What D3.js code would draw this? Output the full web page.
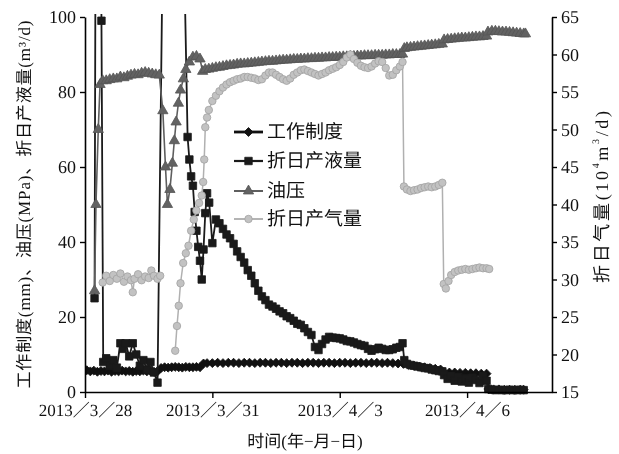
<!DOCTYPE html>
<html>
<head>
<meta charset="utf-8">
<script src="https://cdn.jsdelivr.net/npm/d3@7"></script>
<style>
  body { margin: 0; background: #fff; }
  svg { display: block; filter: grayscale(1); }
  text { text-rendering: geometricPrecision; }
</style>
</head>
<body>
<svg id="chart" width="619" height="454"></svg>
<script>
// Time is stored as hours after 2013-03-28 00:00
const startDate = new Date(2013, 2, 28);
const endDate = new Date(2013, 3, 8);
const xTickDates = [new Date(2013, 2, 28), new Date(2013, 2, 31), new Date(2013, 3, 3), new Date(2013, 3, 6)];
const leftTicks = [0, 20, 40, 60, 80, 100];
const rightTicks = [15, 20, 25, 30, 35, 40, 45, 50, 55, 60, 65];
const seriesNames = ["工作制度", "折日产液量", "油压", "折日产气量"];

// 工作制度 (mm)
const chokeData = [[1,5.8],[3,5.5],[5,5.7],[7,5.4],[9,5.6],[11,5.5],[13,5.7],[15,5.4],[17,5.6],[19,5.5],[21,5.7],[23,5.5],[25,5.6],[27,5.4],[29,5.6],[31,5.5],[33,5.7],[35,5.5],[37,5.6],[39,5.4],[41,5.5],[43,6.4],[45,6.6],[47,6.5],[49,6.6],[51,6.7],[53,6.6],[55,6.5],[57,6.7],[59,6.6],[61,6.6],[63,6.7],[65,6.6],[67,7.6],[69,7.7],[72,7.7],[75,7.8],[78,7.7],[81,7.8],[84,7.8],[87,7.7],[90,7.8],[93,7.8],[96,7.7],[99,7.8],[102,7.8],[105,7.7],[108,7.8],[111,7.8],[114,7.7],[117,7.8],[120,7.8],[123,7.7],[126,7.8],[129,7.8],[132,7.7],[135,7.8],[138,7.8],[141,7.7],[144,7.8],[147,7.8],[150,7.7],[153,7.8],[156,7.8],[159,7.7],[162,7.8],[165,7.8],[168,7.7],[171,7.8],[174,7.7],[177,7.6],[180,7.5],[183,7.2],[186,7.0],[189,6.8],[192,6.6],[195,6.4],[198,6.2],[201,6.0],[203,5.3],[206,5.2],[209,5.2],[212,5.1],[215,5.1],[218,5.0],[221,5.0],[224,4.9],[227,4.9],[228,0.8],[231,0.7],[234,0.7],[237,0.6],[240,0.6],[243,0.6],[246,0.6],[248,0.6]];

// 折日产液量 (m3/d)
const liquidData = [[5.4,25],[7,300],[9.3,99],[10.3,8],[12,9],[14,7],[16,8.5],[18,6.5],[20,13],[21.5,11.5],[23,13],[25,9.5],[27,13],[29,10],[31,7],[33,8.5],[35,6],[37,8],[39,5.2],[41,2.5],[48.5,300],[58,68],[59,62],[60,57.5],[61,55],[62,48],[63,43],[64,38.7],[65,35],[66,30],[67,38],[68,47.7],[69,53],[70.2,50.5],[72,39.7],[74,46],[76,45],[78,43.5],[80,42],[82,41],[84,39.5],[86,37.5],[88,36],[90,34.5],[92,32.5],[94,31],[96,29],[98,27],[100,25.5],[102,24.5],[104,23.3],[106,22.8],[108,22.2],[110,21.5],[112,21],[114,20.2],[116,19.7],[118,19],[120,18.2],[122,17.9],[124,17],[126,16],[128,15.2],[130,12],[132,11.2],[134,12.8],[136,14],[138,14.7],[140,14.5],[142,14.4],[144,14.3],[146,14],[148,13.6],[150,13.5],[152,13.2],[154,12.8],[156,12.5],[158,12.3],[160,11.5],[162,11],[164,11.4],[166,11.8],[168,11.5],[170,11.2],[172,11.2],[174,11.4],[176,11.8],[178,12],[179.5,13],[180.5,8.5],[182,7.5],[184,7.2],[186,7],[188,6.8],[190,6.6],[192,6.4],[194,6.3],[196,6.0],[198,5.8],[200,5.6],[202,5.5],[203,4.5],[205,3.5],[207,4.2],[209,3.0],[211,4.0],[213,2.8],[215,3.6],[217,2.5],[219,3.8],[221,3.2],[223,2.4],[225,4.2],[227,3.0],[228,0.8],[230,0.6],[232,0.5],[234,0.6],[236,0.5],[238,0.5],[240,0.6],[242,0.5],[244,0.5],[246,0.6],[248,0.5]];

// 油压 (MPa)
const pressureData = [[5.4,27],[6.2,50],[7.5,70],[8.5,82],[10,83],[12,83],[14,83.3],[16,83.5],[18,83.5],[20,84],[22,83.8],[24,84.2],[26,84.5],[28,84.7],[30,84.6],[32,85],[34,85.2],[36,85],[38,84.8],[40,84.6],[42,84.5],[44,75],[45.5,60],[46.6,50],[48,54],[49.4,61],[50.5,67],[51.5,72],[52.8,77],[54,80.5],[55.6,83.5],[57,86],[59,88],[61,89.3],[63,89.5],[65,88.8],[66.5,85.5],[68,86],[70,86.1],[72,86.3],[74,86.5],[76,86.6],[78,86.8],[80,87],[82,87.1],[84,87.2],[86,87.4],[88,87.5],[90,87.5],[92,87.6],[94,87.7],[96,87.8],[98,87.9],[100,88],[102,88.1],[104,88.2],[106,88.2],[108,88.3],[110,88.4],[112,88.5],[114,88.5],[116,88.6],[118,88.7],[120,88.7],[122,88.8],[124,88.8],[126,88.9],[128,88.9],[130,89],[132,89],[134,89.1],[136,89.1],[138,89.2],[140,89.2],[142,89.3],[144,89.3],[146,89.4],[148,89.4],[150,89.5],[152,89.5],[154,89.6],[156,89.6],[158,89.7],[160,89.7],[162,89.7],[164,89.8],[166,89.8],[168,89.8],[170,89.9],[172,89.9],[174,90],[176,90],[178,90],[179.5,90.1],[180.5,91.6],[182,91.8],[184,91.9],[186,92],[188,92.1],[190,92.2],[192,92.3],[194,92.4],[196,92.5],[198,92.6],[200,92.7],[202,92.8],[203,93.9],[205,94],[207,94.1],[209,94.2],[211,94.3],[213,94.4],[215,94.4],[217,94.5],[219,94.6],[221,94.7],[223,94.7],[225,94.8],[227,94.9],[227.8,96],[230,96.2],[232,96.2],[234,96.1],[236,96],[238,96],[240,95.9],[242,95.8],[244,95.7],[246,95.6],[248,95.5],[249,95.5]];

// 折日产气量 (10^4 m3/d), null = no record
const gasData = [[10,29.6],[12,30.5],[14,29.8],[16,30.6],[18,30.1],[20,30.8],[22,29.7],[24,30.4],[26,29.9],[27,28.3],[28,30.1],[30,30.7],[32,29.9],[34,30.4],[36,30.2],[37.5,31.2],[39,30.5],[41,30.1],[42.5,30.5],[46,null],[51,20.5],[52,23.8],[53,26.5],[54,29.5],[55.5,32.2],[57,33.5],[58.5,34.5],[60,36.5],[61.5,38],[63,39.2],[64.5,40.2],[66,41.2],[66.8,43],[67.4,46],[68,50.3],[69,51.6],[70,52.6],[72,53.8],[74,54.5],[76,55.1],[78,55.6],[80,56],[82,56.3],[84,56.5],[86,56.7],[88,56.8],[90,57],[92,57],[94,56.9],[96,56.8],[98,56.6],[100,56.7],[102,57.2],[104,57.6],[106,57.6],[108,57.3],[110,57],[112,56.7],[114,56.5],[116,56.8],[118,57.3],[120,57.6],[122,57.9],[124,58],[126,57.8],[128,57.6],[130,57.4],[132,57.2],[134,57.4],[136,57.6],[138,57.9],[140,58.1],[142,58.3],[144,58.6],[146,59],[148,59.6],[150,60],[152,59.4],[154,58.9],[156,58.5],[158,58.3],[160,58.2],[162,58.4],[164,58.8],[166,59.1],[168,59],[170,58.2],[172,57.2],[174,57.3],[176,57.9],[178,58.4],[179.5,59],[180.3,42.4],[182,42],[184,41.8],[186,41.9],[188,42],[190,42.2],[192,42.3],[194,42.4],[196,42.3],[198,42.4],[200,42.6],[202,42.9],[202.8,29.4],[204,28.8],[205.5,29.8],[207,30.6],[209,31],[211,31.2],[213,31.3],[215,31.4],[217,31.3],[219,31.4],[221,31.5],[223,31.6],[225,31.5],[227,31.5],[228.5,31.4]];

const svg = d3.select("#chart");
const mLeft = 85, mRight = 552, mTop = 17, mBottom = 392;
const cjk = "'Liberation Serif','Noto Sans CJK SC'";

const toDate = h => new Date(startDate.getTime() + h * 3600e3);
const x = d3.scaleTime().domain([startDate, endDate]).range([mLeft, mRight]);
const yL = d3.scaleLinear().domain([0, 100]).range([mBottom, mTop]);
const yR = d3.scaleLinear().domain([15, 65]).range([mBottom, mTop]);

svg.append("defs").append("clipPath").attr("id", "plot")
  .append("rect").attr("x", mLeft).attr("y", mTop - 3).attr("width", mRight - mLeft).attr("height", mBottom - mTop + 6);

const styles = [
  { data: chokeData, y: yL, color: "#111", fill: "#111", stroke: "#111", lw: 2.4, sym: d3.symbolSquare, size: 40, rot: 45 },
  { data: liquidData, y: yL, color: "#1a1a1a", fill: "#1a1a1a", stroke: "#1a1a1a", lw: 1.8, sym: d3.symbolSquare, size: 56, rot: 0 },
  { data: pressureData, y: yL, color: "#5e5e5e", fill: "#626262", stroke: "#555", lw: 1.6, sym: d3.symbolTriangle, size: 46, rot: 0 },
  { data: gasData, y: yR, color: "#b0b0b0", fill: "#c2c2c2", stroke: "#a2a2a2", lw: 1.5, sym: d3.symbolCircle, size: 44, rot: 0 }
];

const plot = svg.append("g").attr("clip-path", "url(#plot)");
styles.forEach(s => {
  const line = d3.line()
    .defined(d => d[1] !== null)
    .x(d => x(toDate(d[0])))
    .y(d => s.y(d[1]));
  const g = plot.append("g");
  g.append("path").datum(s.data)
    .attr("d", line).attr("fill", "none")
    .attr("stroke", s.color).attr("stroke-width", s.lw).attr("stroke-linejoin", "round");
  g.selectAll("path.m").data(s.data.filter(d => d[1] !== null)).join("path")
    .attr("class", "m")
    .attr("d", d3.symbol(s.sym, s.size))
    .attr("transform", d => `translate(${x(toDate(d[0]))},${s.y(d[1])}) rotate(${s.rot})`)
    .attr("fill", s.fill).attr("stroke", s.stroke).attr("stroke-width", 0.8);
});

// axes
const fmt = d => `${d.getFullYear()}／${d.getMonth() + 1}／${d.getDate()}`;
const gx = svg.append("g").attr("transform", `translate(0,${mBottom})`)
  .call(d3.axisBottom(x).tickValues(xTickDates).tickFormat(fmt).tickSizeInner(6).tickSizeOuter(0).tickPadding(6));
const gl = svg.append("g").attr("transform", `translate(${mLeft},0)`)
  .call(d3.axisLeft(yL).tickValues(leftTicks).tickSizeInner(5).tickSizeOuter(0).tickPadding(4));
const gr = svg.append("g").attr("transform", `translate(${mRight},0)`)
  .call(d3.axisRight(yR).tickValues(rightTicks).tickSizeInner(5).tickSizeOuter(0).tickPadding(4));

[gx, gl, gr].forEach(g => {
  g.select(".domain").attr("stroke", "#000").attr("stroke-width", 1.6);
  g.selectAll(".tick line").attr("stroke", "#000").attr("stroke-width", 1.4);
  g.selectAll(".tick text").attr("fill", "#111").attr("font-family", cjk).attr("font-size", 18);
});
gx.selectAll(".tick text").attr("font-size", 17);

// axis titles
svg.append("text")
  .attr("transform", `translate(24,${(mTop + mBottom) / 2}) rotate(-90)`)
  .attr("text-anchor", "middle").attr("dominant-baseline", "central")
  .attr("font-family", cjk).attr("font-size", 17).attr("fill", "#111")
  .attr("textLength", 368).attr("lengthAdjust", "spacing")
  .text("工作制度(mm)、油压(MPa)、折日产液量(m³/d)");

const rt = svg.append("text")
  .attr("transform", `translate(602,197) rotate(-90)`)
  .attr("text-anchor", "middle").attr("dominant-baseline", "central")
  .attr("font-family", cjk).attr("font-size", 18).attr("fill", "#111")
  .attr("textLength", 172).attr("lengthAdjust", "spacing");
rt.append("tspan").text("折日气量(10");
rt.append("tspan").attr("font-size", 10).attr("dy", -6).text("4");
rt.append("tspan").attr("dy", 6).text("m");
rt.append("tspan").attr("font-size", 10).attr("dy", -6).text("3");
rt.append("tspan").attr("dy", 6).text("/d)");

svg.append("text")
  .attr("x", 305).attr("y", 441)
  .attr("text-anchor", "middle").attr("dominant-baseline", "central")
  .attr("font-family", cjk).attr("font-size", 17).attr("fill", "#111")
  .text("时间(年−月−日)");

// legend
const legend = svg.append("g");
const legendY = [132, 161, 191, 219];
styles.forEach((s, i) => {
  const g = legend.append("g").attr("transform", `translate(0,${legendY[i]})`);
  g.append("line").attr("x1", 234).attr("x2", 263).attr("y1", 0).attr("y2", 0)
    .attr("stroke", s.color).attr("stroke-width", s.lw + 0.4);
  g.append("path").attr("d", d3.symbol(s.sym, s.size))
    .attr("transform", `translate(248.5,0) rotate(${s.rot})`)
    .attr("fill", s.fill).attr("stroke", s.stroke).attr("stroke-width", 0.8);
  g.append("text").attr("x", 267).attr("y", 0).attr("dominant-baseline", "central")
    .attr("font-family", cjk).attr("font-size", 19).attr("fill", "#111")
    .text(seriesNames[i]);
});
</script>
</body>
</html>
